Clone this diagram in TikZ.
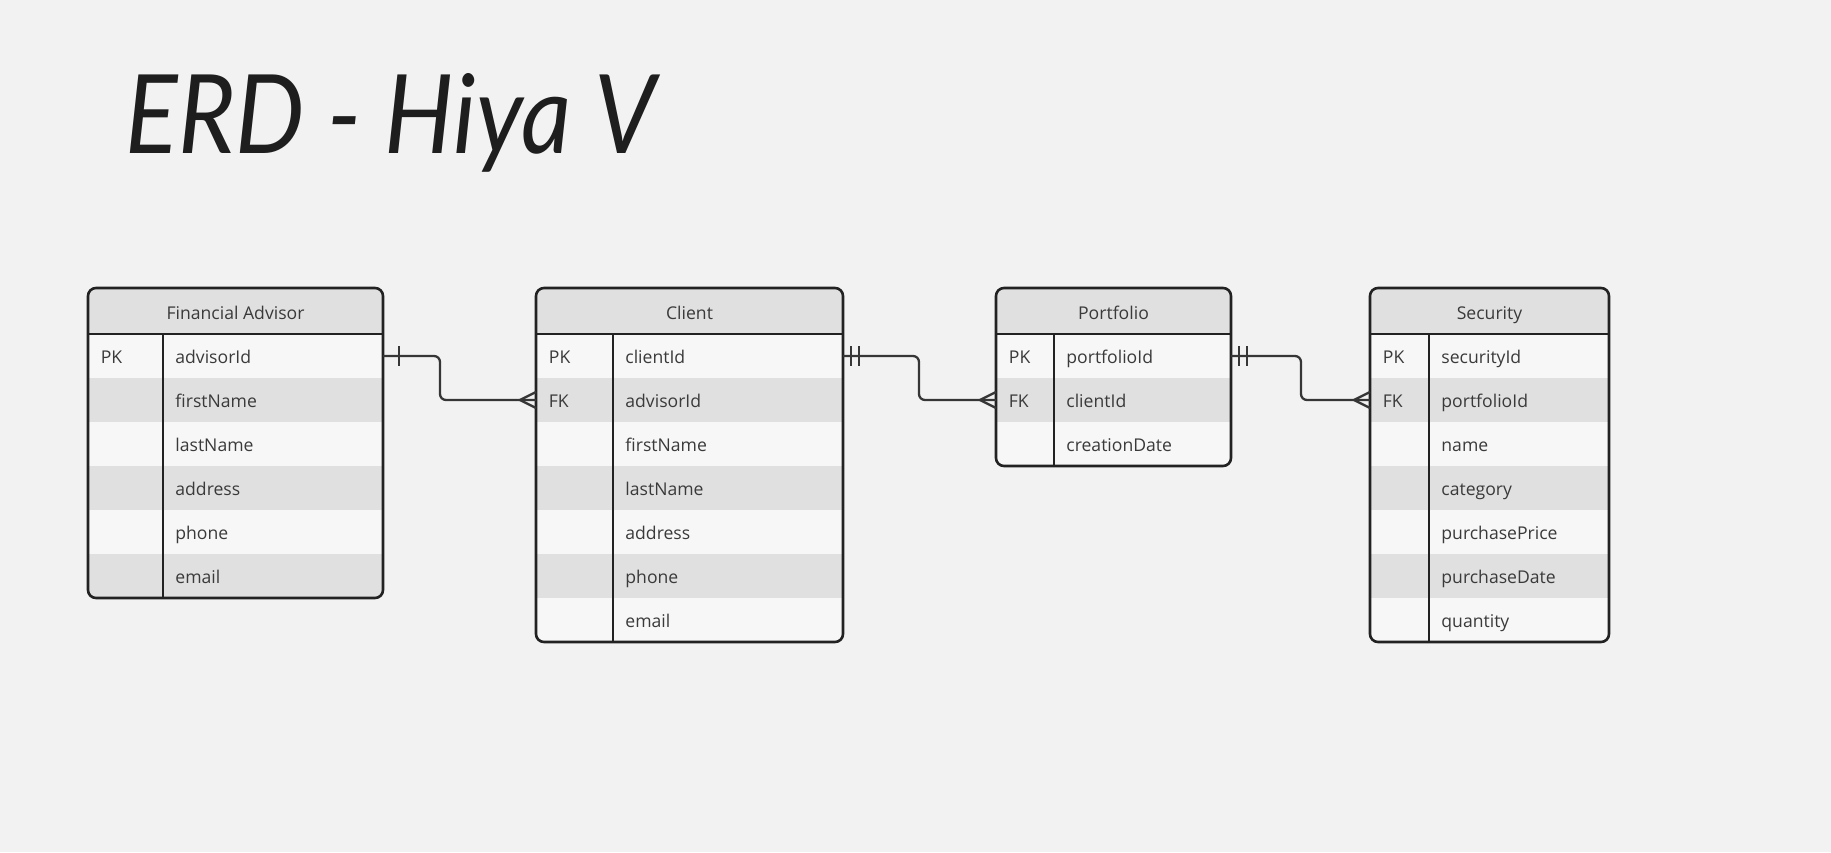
\documentclass[tikz,border=0pt]{standalone}
\usepackage{fontspec}
\setmainfont{Open Sans}
\newfontfamily\titlefont{Lato}
\usetikzlibrary{calc}
\definecolor{bg}{HTML}{F2F2F2}
\definecolor{rowlight}{HTML}{F7F7F7}
\definecolor{rowdark}{HTML}{E0E0E0}
\definecolor{edge}{HTML}{222222}
\definecolor{txt}{HTML}{3A3A3A}
\definecolor{linkcol}{HTML}{363636}
\definecolor{titlecol}{HTML}{1E1E1E}
\tikzset{
  tablebox/.style={draw=edge, line width=1.3pt, rounded corners=4pt, inner sep=0pt, outer sep=0pt, anchor=north west},
  edgeline/.style={draw=edge, line width=1.3pt},
  celltext/.style={font=\fontsize{8.8}{10}\selectfont, text=txt, inner sep=0pt},
  link/.style={draw=linkcol, line width=1.15pt, rounded corners=3pt},
  endtick/.style={draw=linkcol, line width=1.15pt},
}
% #1 name #2 left #3 top #4 right #5 divider #6 rows #7 title #8 list
\newcommand{\erdtable}[8]{%
  \pgfmathsetmacro{\erdbot}{#3+46+44*#6}%
  \pgfmathsetmacro{\erdw}{(#4-#2)*0.5}%
  \pgfmathsetmacro{\erdh}{(\erdbot-#3)*0.5}%
  \begin{scope}
    \clip[rounded corners=4pt] (#2,#3) rectangle (#4,\erdbot);
    \fill[rowlight] (#2,#3) rectangle (#4,\erdbot);
    \fill[rowdark] (#2,#3) rectangle (#4,#3+46);
    \foreach \k/\f [count=\i] in {#8} {
      \pgfmathsetmacro{\ya}{#3+46+44*(\i-1)}
      \ifodd\i\else \fill[rowdark] (#2,\ya) rectangle (#4,\ya+44); \fi
      \node[celltext, anchor=base west] (#1-k\i) at (#2+12.5,\ya+29.5) {\k};
      \node[celltext, anchor=base west] (#1-r\i) at (#5+12,\ya+29.5) {\f};
      \coordinate (#1-y\i) at (#2,\ya+22);
    }
  \end{scope}
  \node[celltext, anchor=base] (#1-title) at ({(#2+#4)/2},#3+31) {#7};
  \draw[edgeline] (#2,#3+46) -- (#4,#3+46);
  \draw[edgeline] (#5,#3+46) -- (#5,\erdbot);
  \node[tablebox, minimum width=\erdw pt, minimum height=\erdh pt] (#1) at (#2,#3) {};
}
\begin{document}
\begin{tikzpicture}[x=0.5pt, y=-0.5pt]
  \fill[bg] (0,0) rectangle (1831,852);
  \useasboundingbox (0,0) rectangle (1831,852);

  \node[anchor=base west, inner sep=0pt, text=titlecol] (title) at (125,153)
    {\resizebox{265pt}{40pt}{\titlefont\itshape ERD - Hiya V}};

  \erdtable{fa}{88}{288}{383}{163}{6}{Financial Advisor}
    {PK/advisorId, /firstName, /lastName, /address, /phone, /email}
  \erdtable{cl}{536}{288}{843}{613}{7}{Client}
    {PK/clientId, FK/advisorId, /firstName, /lastName, /address, /phone, /email}
  \erdtable{pf}{996}{288}{1231}{1054}{3}{Portfolio}
    {PK/portfolioId, FK/clientId, /creationDate}
  \erdtable{se}{1370}{288}{1609}{1429}{7}{Security}
    {PK/securityId, FK/portfolioId, /name, /category, /purchasePrice, /purchaseDate, /quantity}

  % Financial Advisor -- Client
  \draw[link] (fa.east |- fa-y1) -- ++(57,0) |- (cl.west |- cl-y2);
  \draw[endtick] ($(fa.east |- fa-y1)+(16,-10)$) -- ++(0,20);
  \draw[endtick] ($(cl.west |- cl-y2)+(-16,0)$) -- ($(cl.west |- cl-y2)+(0,-8)$);
  \draw[endtick] ($(cl.west |- cl-y2)+(-16,0)$) -- ($(cl.west |- cl-y2)+(0,8)$);

  % Client -- Portfolio
  \draw[link] (cl.east |- cl-y1) -- ++(76,0) |- (pf.west |- pf-y2);
  \draw[endtick] ($(cl.east |- cl-y1)+(8,-10)$) -- ++(0,20);
  \draw[endtick] ($(cl.east |- cl-y1)+(16,-10)$) -- ++(0,20);
  \draw[endtick] ($(pf.west |- pf-y2)+(-16,0)$) -- ($(pf.west |- pf-y2)+(0,-8)$);
  \draw[endtick] ($(pf.west |- pf-y2)+(-16,0)$) -- ($(pf.west |- pf-y2)+(0,8)$);

  % Portfolio -- Security
  \draw[link] (pf.east |- pf-y1) -- ++(70,0) |- (se.west |- se-y2);
  \draw[endtick] ($(pf.east |- pf-y1)+(8,-10)$) -- ++(0,20);
  \draw[endtick] ($(pf.east |- pf-y1)+(16,-10)$) -- ++(0,20);
  \draw[endtick] ($(se.west |- se-y2)+(-16,0)$) -- ($(se.west |- se-y2)+(0,-8)$);
  \draw[endtick] ($(se.west |- se-y2)+(-16,0)$) -- ($(se.west |- se-y2)+(0,8)$);
\end{tikzpicture}
\end{document}
